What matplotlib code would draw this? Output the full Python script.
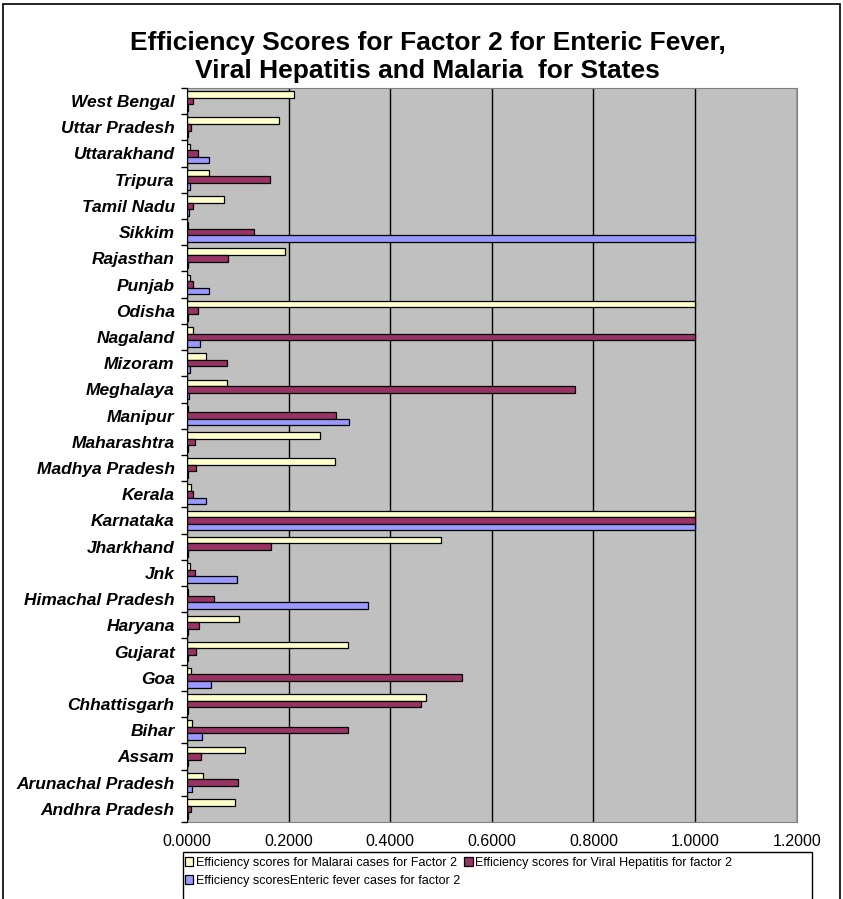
import numpy as np
import matplotlib
matplotlib.use("Agg")
import matplotlib.pyplot as plt
from matplotlib.patches import Rectangle

# states listed bottom -> top as in the chart
states = ["Andhra Pradesh", "Arunachal Pradesh", "Assam", "Bihar", "Chhattisgarh",
          "Goa", "Gujarat", "Haryana", "Himachal Pradesh", "Jnk", "Jharkhand",
          "Karnataka", "Kerala", "Madhya Pradesh", "Maharashtra", "Manipur",
          "Meghalaya", "Mizoram", "Nagaland", "Odisha", "Punjab", "Rajasthan",
          "Sikkim", "Tamil Nadu", "Tripura", "Uttarakhand", "Uttar Pradesh",
          "West Bengal"]

malaria = [0.094, 0.032, 0.114, 0.010, 0.470,
           0.007, 0.316, 0.102, 0.002, 0.005, 0.500,
           1.000, 0.007, 0.292, 0.261, 0.002,
           0.079, 0.037, 0.012, 1.000, 0.0065, 0.192,
           0.002, 0.072, 0.044, 0.006, 0.180,
           0.211]
viral = [0.007, 0.100, 0.027, 0.317, 0.460,
         0.541, 0.017, 0.024, 0.053, 0.015, 0.166,
         1.000, 0.012, 0.018, 0.015, 0.294,
         0.763, 0.079, 1.000, 0.022, 0.0125, 0.080,
         0.132, 0.012, 0.163, 0.022, 0.0085,
         0.012]
enteric = [0.002, 0.009, 0.002, 0.030, 0.002,
           0.046, 0.002, 0.002, 0.357, 0.098, 0.002,
           1.000, 0.038, 0.002, 0.002, 0.319,
           0.004, 0.006, 0.026, 0.002, 0.044, 0.002,
           1.000, 0.004, 0.006, 0.044, 0.002,
           0.002]

x_ticks = [0.0, 0.2, 0.4, 0.6, 0.8, 1.0, 1.2]

labels = ["Efficiency scores for Malarai cases for Factor 2",
          "Efficiency scores for Viral Hepatitis for factor 2",
          "Efficiency scoresEnteric fever cases for factor 2"]
colors = ["#FFFFCC", "#993366", "#9999FF"]

plt.rcParams['font.family'] = ['Liberation Sans', 'DejaVu Sans']

fig = plt.figure(figsize=(8.43, 8.99), dpi=100)
ax = fig.add_axes([0.222, 0.0857, 0.723, 0.8165])

y = np.arange(len(states))
h = 0.25
bars_m = ax.barh(y + h, malaria, height=h, color=colors[0], edgecolor="black", linewidth=0.9, zorder=3)
bars_v = ax.barh(y, viral, height=h, color=colors[1], edgecolor="black", linewidth=0.9, zorder=3)
bars_e = ax.barh(y - h, enteric, height=h, color=colors[2], edgecolor="black", linewidth=0.9, zorder=3)

ax.set_facecolor("#C0C0C0")
ax.set_xlim(0, 1.2)
ax.set_ylim(-0.5, len(states) - 0.5)
ax.set_xticks(x_ticks)
ax.set_xticklabels([f"{v:.4f}" for v in x_ticks], fontsize=11.5)
ax.tick_params(axis="x", length=0, pad=9)
ax.set_yticks(y)
ax.set_yticklabels(states, fontsize=12.5, fontweight="bold", fontstyle="italic")
ax.tick_params(axis="y", which="major", length=0, pad=9)
ax.set_yticks(np.arange(-0.5, len(states), 1), minor=True)
ax.tick_params(axis="y", which="minor", length=4, direction="out", width=1)
ax.grid(axis="x", color="black", linewidth=1.0, zorder=1)

for side in ["top", "right", "bottom"]:
    ax.spines[side].set_color("#808080")
ax.spines["left"].set_color("black")
ax.spines["left"].set_zorder(4)

fig.text(0.507, 0.937, "Efficiency Scores for Factor 2 for Enteric Fever,\nViral Hepatitis and Malaria  for States",
         ha="center", va="center", fontsize=19, fontweight="bold", linespacing=1.2)

# legend order arranged so the rows read like the original
handles = [bars_m, bars_e, bars_v]
leg_labels = [labels[0], labels[2], labels[1]]
leg = fig.legend(handles, leg_labels, loc="upper left", ncol=2,
                 bbox_to_anchor=(0.219, 1 - 857 / 899),
                 fontsize=9.0, frameon=False,
                 handlelength=0.7, handleheight=0.7, handletextpad=0.2,
                 borderpad=0.0, labelspacing=0.45, columnspacing=0.3,
                 borderaxespad=0)

fig.patches.append(Rectangle((183 / 843, -0.01), (812 - 183) / 843, 0.01 + 1 - 852 / 899,
                             transform=fig.transFigure, fill=False,
                             edgecolor="black", linewidth=1.0))
fig.patches.append(Rectangle((0.004, -0.01), 0.993, 1.006, transform=fig.transFigure,
                             fill=False, edgecolor="black", linewidth=1.2))

fig.savefig("out.png", dpi=100)
